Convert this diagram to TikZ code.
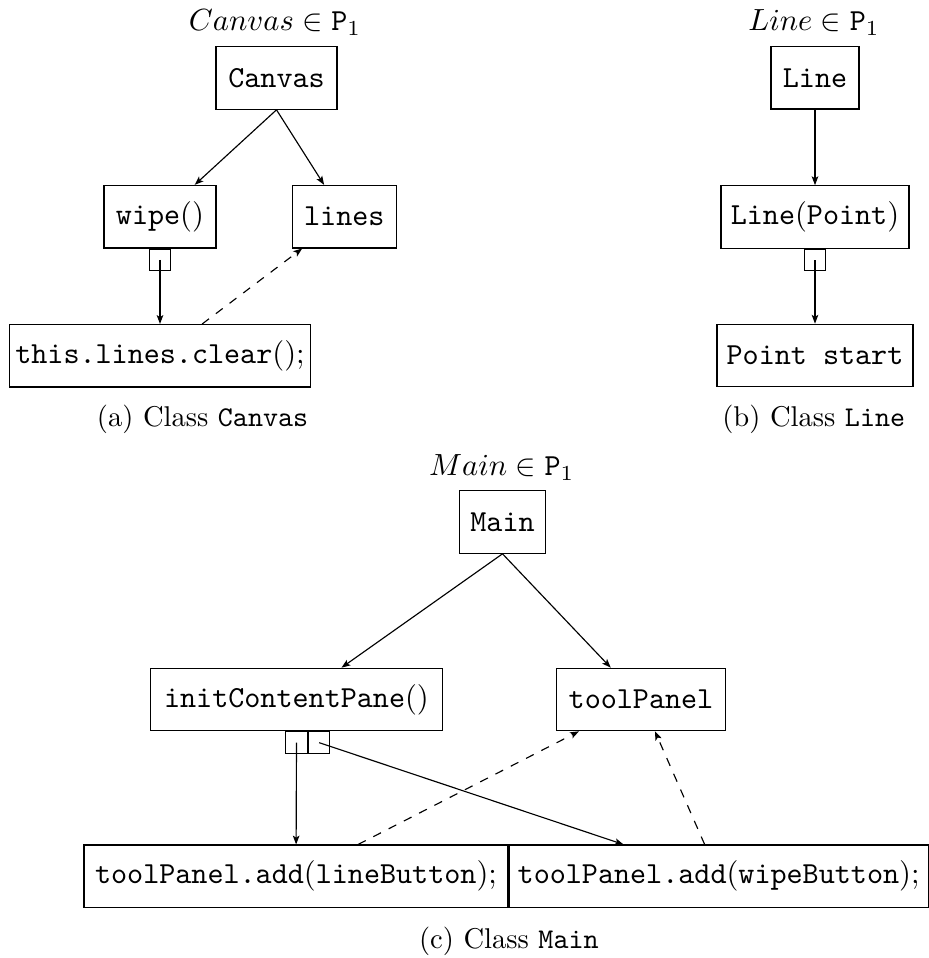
\documentclass[tikz,border=0pt]{standalone}
\usepackage{fix-cm}
\usetikzlibrary{arrows.meta}

\begin{document}
\begin{tikzpicture}[
  x=0.34965pt, y=-0.34965pt,
  every node/.style={font=\fontsize{10.7}{12.8}\selectfont},
  box/.style={draw, line width=0.4pt, inner sep=0pt, minimum height=21.85pt},
  sq/.style={draw, line width=0.4pt, inner sep=0pt, minimum size=7.52pt},
  arr/.style={line width=0.4pt, -{Stealth[length=3.1pt,width=2.3pt,inset=0.7pt]}},
  title/.style={anchor=base, inner sep=0pt},
  caption/.style={anchor=base, inner sep=0pt, font=\fontsize{10}{12}\selectfont},
]
\useasboundingbox (0,0) rectangle (928,958);

% (a) class Canvas
\node[title] (tA) at (275,30.5) {$Canvas \in \mathtt{P}_1$};
\node[box, minimum width=42.31pt] (canvas) at (276.5,78) {\texttt{Canvas}};
\node[box, minimum width=39.16pt] (wipe) at (160,216.7) {\texttt{wipe}()};
\node[box, minimum width=36.36pt] (lines) at (344.3,216.7) {\texttt{lines}};
\node[sq, anchor=north] (sqA) at (wipe.south) {};
\node[box, minimum width=105.39pt] (clear) at (160,355.8) {\texttt{this.lines.clear}();};
\node[caption] (capA) at (202.5,426) {(a) Class \texttt{Canvas}};

\draw[arr] (canvas.south) -- (wipe);
\draw[arr] (canvas.south) -- (lines);
\draw[arr] (sqA.center) -- (clear);
\draw[arr, dashed] (clear) -- (lines);

% (b) class Line
\node[title] (tB) at (814,30.5) {$Line \in \mathtt{P}_1$};
\node[box, minimum width=30.77pt] (line) at (815,77.8) {\texttt{Line}};
\node[box, minimum width=65.73pt] (linepoint) at (815,217) {\texttt{Line}(\texttt{Point})};
\node[sq, anchor=north] (sqB) at (linepoint.south) {};
\node[box, minimum width=68.53pt] (pointstart) at (815,355.5) {\texttt{Point start}};
\node[caption] (capB) at (813.7,426) {(b) Class \texttt{Line}};

\draw[arr] (line) -- (linepoint);
\draw[arr] (sqB.center) -- (pointstart);

% (c) class Main
\node[title] (tC) at (501.7,475.5) {$Main \in \mathtt{P}_1$};
\node[box, minimum width=30.21pt] (main) at (502.5,522) {\texttt{Main}};
\node[box, minimum width=101.96pt] (init) at (296.5,699.5) {\texttt{initContentPane}()};
\node[box, minimum width=58.95pt] (toolpanel) at (641,699.5) {\texttt{toolPanel}};
\node[sq, anchor=north] (sqC1) at (init.south) {};
\node[sq, anchor=north west] (sqC2) at (sqC1.north east) {};
\node[box, minimum width=148.25pt] (addline) at (296,876.3) {\texttt{toolPanel.add}(\texttt{lineButton});};
\node[box, minimum width=146.5pt, anchor=west] (addwipe) at (addline.east) {\texttt{toolPanel.add}(\texttt{wipeButton});};
\node[caption] (capC) at (508.8,948) {(c) Class \texttt{Main}};

\draw[arr] (main.south) -- (init);
\draw[arr] (main.south) -- (toolpanel);
\draw[arr] (sqC1.center) -- (addline);
\draw[arr] (sqC2.center) -- (addwipe);
\draw[arr, dashed] (addline) -- (toolpanel);
\draw[arr, dashed] (addwipe) -- (toolpanel);
\end{tikzpicture}
\end{document}
